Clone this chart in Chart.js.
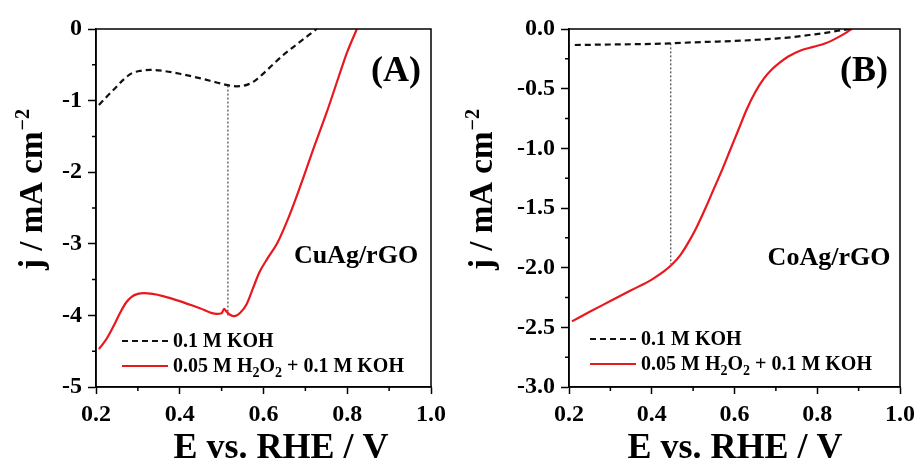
<!DOCTYPE html>
<html>
<head>
<meta charset="utf-8">
<script src="https://cdn.jsdelivr.net/npm/chart.js@4.4.1/dist/chart.umd.min.js"></script>
<style>
  html, body { margin: 0; padding: 0; background: #fff; }
  #wrap { position: relative; width: 921px; height: 462px; }
  canvas { position: absolute; top: 0; }
  #chartA { left: 0; }
  #chartB { left: 460px; }
</style>
</head>
<body>
<div id="wrap">
  <canvas id="chartA" width="460" height="462"></canvas>
  <canvas id="chartB" width="461" height="462"></canvas>
</div>
<script>
// (A) CuAg/rGO, potential in V vs RHE, current in mA cm-2
var aKohX = [0.207, 0.225, 0.245, 0.265, 0.285, 0.305, 0.33, 0.36, 0.40, 0.45, 0.49, 0.515, 0.535, 0.55, 0.565, 0.58, 0.60, 0.62, 0.646, 0.667, 0.687, 0.707, 0.727];
var aKohY = [-1.06, -0.95, -0.83, -0.71, -0.62, -0.585, -0.57, -0.585, -0.625, -0.69, -0.75, -0.785, -0.80, -0.795, -0.77, -0.72, -0.62, -0.51, -0.37, -0.27, -0.18, -0.09, 0.0];
var aPerX = [0.207, 0.225, 0.241, 0.258, 0.272, 0.285, 0.30, 0.315, 0.335, 0.36, 0.40, 0.448, 0.488, 0.50, 0.506, 0.512, 0.52, 0.53, 0.545, 0.56, 0.575, 0.59, 0.61, 0.632, 0.66, 0.69, 0.72, 0.75, 0.78, 0.80, 0.823];
var aPerY = [-4.47, -4.33, -4.16, -3.96, -3.82, -3.74, -3.70, -3.69, -3.70, -3.73, -3.80, -3.90, -3.98, -3.97, -3.91, -3.95, -3.99, -4.01, -3.96, -3.84, -3.62, -3.40, -3.20, -3.00, -2.63, -2.16, -1.66, -1.18, -0.66, -0.32, 0.0];
var aMarkX = [0.515, 0.515];
var aMarkY = [-0.79, -4.0];

// (B) CoAg/rGO
var bKohX = [0.214, 0.30, 0.40, 0.448, 0.50, 0.56, 0.62, 0.656, 0.70, 0.735, 0.78, 0.816, 0.85, 0.878];
var bKohY = [-0.134, -0.13, -0.125, -0.12, -0.112, -0.105, -0.097, -0.09, -0.08, -0.07, -0.05, -0.035, -0.015, 0.0];
var bPerX = [0.207, 0.25, 0.30, 0.35, 0.40, 0.43, 0.45, 0.47, 0.49, 0.51, 0.53, 0.55, 0.57, 0.59, 0.61, 0.63, 0.65, 0.67, 0.69, 0.71, 0.73, 0.76, 0.79, 0.82, 0.85, 0.87, 0.883];
var bPerY = [-2.45, -2.37, -2.28, -2.19, -2.10, -2.03, -1.97, -1.89, -1.78, -1.65, -1.50, -1.34, -1.18, -1.01, -0.84, -0.67, -0.53, -0.42, -0.34, -0.28, -0.23, -0.18, -0.15, -0.12, -0.07, -0.03, 0.0];
var bMarkX = [0.446, 0.446];
var bMarkY = [-0.12, -1.97];

var seriesNames = ['0.1 M KOH', '0.05 M H2O2 + 0.1 M KOH'];
var xTitle = 'E vs. RHE / V';
var yTitle = 'j / mA cm';

var SERIF = '"Liberation Serif", "Times New Roman", serif';
var RED = '#e8181e';

function pts(xs, ys) {
  return xs.map(function (x, i) { return { x: x, y: ys[i] }; });
}

// draws text made of plain + subscript pieces
function drawRich(ctx, parts, x, y, size) {
  var cx = x;
  parts.forEach(function (p) {
    var s = p.sub ? Math.round(size * 0.68) : size;
    ctx.font = 'bold ' + s + 'px ' + SERIF;
    ctx.fillText(p.t, cx, p.sub ? y + 5 : y);
    cx += ctx.measureText(p.t).width;
  });
}

var decorPlugin = {
  id: 'decor',
  afterDraw: function (chart) {
    var o = chart.options.plugins.decor;
    var ctx = chart.ctx;
    var a = chart.chartArea;
    var xs = chart.scales.x, ys = chart.scales.y;
    var i, m, p;

    ctx.save();
    ctx.strokeStyle = '#000';
    ctx.lineWidth = 1.5;
    ctx.strokeRect(a.left, a.top, a.right - a.left, a.bottom - a.top);

    // minor ticks half way between the major ones
    ctx.beginPath();
    for (i = 0; i < xs.ticks.length - 1; i++) {
      m = (xs.ticks[i].value + xs.ticks[i + 1].value) / 2;
      p = xs.getPixelForValue(m);
      ctx.moveTo(p, a.bottom);
      ctx.lineTo(p, a.bottom + 4);
    }
    for (i = 0; i < ys.ticks.length - 1; i++) {
      m = (ys.ticks[i].value + ys.ticks[i + 1].value) / 2;
      p = ys.getPixelForValue(m);
      ctx.moveTo(a.left - 4, p);
      ctx.lineTo(a.left, p);
    }
    ctx.stroke();

    ctx.fillStyle = '#000';
    ctx.textBaseline = 'alphabetic';

    // x title
    ctx.textAlign = 'center';
    ctx.font = 'bold 36px ' + SERIF;
    ctx.fillText(xTitle, o.xTitleX, 458);

    // y title with superscript
    ctx.save();
    ctx.translate(o.yTitleX, 190);
    ctx.rotate(-Math.PI / 2);
    ctx.textAlign = 'left';
    ctx.font = 'bold 33px ' + SERIF;
    var w1 = ctx.measureText(yTitle).width;
    ctx.font = 'bold 20px ' + SERIF;
    var w2 = ctx.measureText('\u22122').width;
    var st = -(w1 + w2) / 2;
    ctx.font = 'bold 33px ' + SERIF;
    ctx.fillText(yTitle, st, 0);
    ctx.font = 'bold 20px ' + SERIF;
    ctx.fillText('\u22122', st + w1 + 1, -13);
    ctx.restore();

    // panel letter and sample name
    ctx.textAlign = 'center';
    ctx.font = 'bold 36px ' + SERIF;
    ctx.fillText(o.letter, o.letterX, 81);
    ctx.font = 'bold 26px ' + SERIF;
    ctx.fillText(o.sample, o.sampleX, o.sampleY);

    // legend
    var lx = o.legendX;
    ctx.lineWidth = 2.2;
    ctx.strokeStyle = '#111';
    ctx.setLineDash([6, 4]);
    ctx.beginPath();
    ctx.moveTo(lx, o.legendY);
    ctx.lineTo(lx + 46, o.legendY);
    ctx.stroke();
    ctx.setLineDash([]);
    ctx.strokeStyle = RED;
    ctx.beginPath();
    ctx.moveTo(lx, o.legendY + 25);
    ctx.lineTo(lx + 46, o.legendY + 25);
    ctx.stroke();

    ctx.textAlign = 'left';
    ctx.font = 'bold 20px ' + SERIF;
    ctx.fillText(seriesNames[0], lx + 51, o.legendY + 6);
    drawRich(ctx, [
      { t: '0.05 M H' }, { t: '2', sub: true }, { t: 'O' }, { t: '2', sub: true }, { t: ' + 0.1 M KOH' }
    ], lx + 51, o.legendY + 31, 20);
    ctx.restore();
  }
};

function makePanel(id, kohX, kohY, perX, perY, markX, markY, yMin, yStep, yDec, axisW, padRight, decor) {
  var tickFont = { family: SERIF, size: 24, weight: 'bold' };
  return new Chart(document.getElementById(id), {
    type: 'line',
    data: {
      datasets: [
        {
          label: seriesNames[0],
          data: pts(kohX, kohY),
          borderColor: '#111',
          borderWidth: 2.2,
          borderDash: [6, 4],
          pointRadius: 0,
          cubicInterpolationMode: 'monotone'
        },
        {
          label: seriesNames[1],
          data: pts(perX, perY),
          borderColor: RED,
          borderWidth: 2.2,
          pointRadius: 0,
          cubicInterpolationMode: 'monotone'
        },
        {
          label: 'marker',
          data: pts(markX, markY),
          borderColor: '#222',
          borderWidth: 1,
          borderDash: [2, 2],
          pointRadius: 0,
          tension: 0
        }
      ]
    },
    options: {
      responsive: false,
      animation: false,
      events: [],
      layout: { padding: { top: 29, right: padRight, left: 0, bottom: 0 } },
      plugins: {
        legend: { display: false },
        tooltip: { enabled: false },
        decor: decor
      },
      scales: {
        x: {
          type: 'linear',
          min: 0.2,
          max: 1.0,
          afterFit: function (s) { s.height = 75; },
          ticks: {
            stepSize: 0.2,
            padding: 6,
            maxRotation: 0,
            color: '#000',
            font: tickFont,
            callback: function (v) { return v.toFixed(1); }
          },
          grid: { drawOnChartArea: false, drawTicks: true, tickLength: 7, tickColor: '#000', tickWidth: 1.5 },
          border: { display: true, color: '#000', width: 1.5 }
        },
        y: {
          min: yMin,
          max: 0,
          afterFit: function (s) { s.width = axisW; },
          ticks: {
            stepSize: yStep,
            padding: 6,
            color: '#000',
            font: tickFont,
            callback: function (v) { return v.toFixed(yDec); }
          },
          grid: { drawOnChartArea: false, drawTicks: true, tickLength: 8, tickColor: '#000', tickWidth: 1.5 },
          border: { display: true, color: '#000', width: 1.5 }
        }
      }
    },
    plugins: [decorPlugin]
  });
}

makePanel('chartA', aKohX, aKohY, aPerX, aPerY, aMarkX, aMarkY, -5, 1, 0, 96, 29, {
  letter: '(A)', letterX: 396,
  sample: 'CuAg/rGO', sampleX: 356, sampleY: 263,
  legendX: 122, legendY: 341,
  xTitleX: 281, yTitleX: 42
});

makePanel('chartB', bKohX, bKohY, bPerX, bPerY, bMarkX, bMarkY, -3, 0.5, 1, 109, 17, {
  letter: '(B)', letterX: 404,
  sample: 'CoAg/rGO', sampleX: 369, sampleY: 265,
  legendX: 130, legendY: 339,
  xTitleX: 275, yTitleX: 32
});
</script>
</body>
</html>
